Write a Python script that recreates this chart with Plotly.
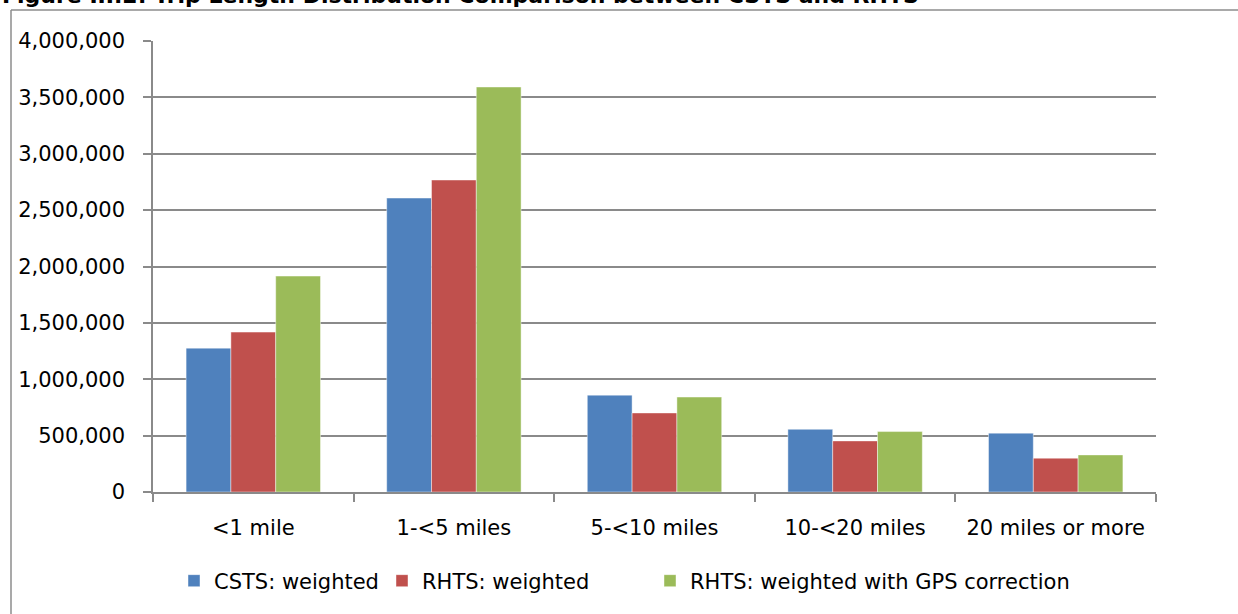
import plotly.graph_objects as go

# Trip length bins and trip counts per survey source
categories = ["<1 mile", "1-<5 miles", "5-<10 miles", "10-<20 miles", "20 miles or more"]
csts_weighted = [1276000, 2607000, 859000, 556000, 522000]
rhts_weighted = [1418000, 2767000, 701000, 453000, 300000]
rhts_gps = [1915000, 3592000, 842000, 536000, 329000]

series_names = ["CSTS: weighted", "RHTS: weighted", "RHTS: weighted with GPS correction"]
series_colors = ["#4F81BD", "#C0504D", "#9BBB59"]
series_values = [csts_weighted, rhts_weighted, rhts_gps]

title_text = "Figure III.2: Trip Length Distribution Comparison between CSTS and RHTS"

W, H = 1238, 614
L, R, T, B = 153, 82, 41, 122
plot_w = W - L - R
plot_h = H - T - B

FONT = "DejaVu Sans"
FS = 21
GRID = "#8a8a8a"

fig = go.Figure()
legend_ids = ["legend", "legend2", "legend3"]
for name, color, vals, lg in zip(series_names, series_colors, series_values, legend_ids):
    fig.add_trace(go.Bar(
        x=categories, y=vals, name=name, legend=lg,
        marker=dict(color=color, line=dict(color="rgba(255,255,255,0.55)", width=0.8)),
    ))

# Individual legend boxes placed along the bottom row
legend_px = [174, 382, 650]
legend_common = dict(
    orientation="h", xref="container", yref="container",
    xanchor="left", yanchor="middle", y=1 - 581 / H,
    font=dict(family=FONT, size=FS, color="#000000"),
    bgcolor="rgba(0,0,0,0)", borderwidth=0,
)

def px_to_paper_x(px):
    return (px - L) / plot_w

def px_to_paper_y(py):
    return (H - B - py) / plot_h

fig.update_layout(
    width=W, height=H,
    margin=dict(l=L, r=R, t=T, b=B, pad=0),
    paper_bgcolor="white", plot_bgcolor="white",
    bargap=0.33, bargroupgap=0,
    barmode="group",
    showlegend=True,
    legend=dict(x=legend_px[0] / W, **legend_common),
    legend2=dict(x=legend_px[1] / W, **legend_common),
    legend3=dict(x=legend_px[2] / W, **legend_common),
    font=dict(family=FONT, size=FS, color="#000000"),
    xaxis=dict(
        showline=True, linecolor=GRID, linewidth=1.5,
        ticks="outside", tickson="boundaries", ticklen=8, tickcolor=GRID, tickwidth=1.5,
        ticklabelstandoff=16,
        tickfont=dict(family=FONT, size=FS, color="#000000"),
        showgrid=False, zeroline=False,
    ),
    yaxis=dict(
        range=[0, 4000000], dtick=500000, tickformat=",",
        showline=True, linecolor=GRID, linewidth=1.5,
        ticks="outside", ticklen=8, tickcolor=GRID, tickwidth=1.5,
        ticklabelstandoff=14,
        showgrid=True, gridcolor=GRID, gridwidth=1.5,
        zeroline=False,
        tickfont=dict(family=FONT, size=FS, color="#000000"),
    ),
    shapes=[
        # outer chart frame: left and top edges
        dict(type="line", xref="paper", yref="paper",
             x0=px_to_paper_x(11), x1=px_to_paper_x(11),
             y0=px_to_paper_y(10), y1=px_to_paper_y(H + 20),
             line=dict(color="#8c8c8c", width=1.5)),
        dict(type="line", xref="paper", yref="paper",
             x0=px_to_paper_x(11), x1=px_to_paper_x(W + 20),
             y0=px_to_paper_y(10), y1=px_to_paper_y(10),
             line=dict(color="#8c8c8c", width=1.5)),
    ],
    annotations=[
        dict(text="<b>" + title_text + "</b>", xref="paper", yref="paper",
             x=px_to_paper_x(0), y=px_to_paper_y(10),
             xanchor="left", yanchor="bottom", showarrow=False,
             font=dict(family=FONT, size=22, color="#000000")),
    ],
)

fig.write_html("out.html")
